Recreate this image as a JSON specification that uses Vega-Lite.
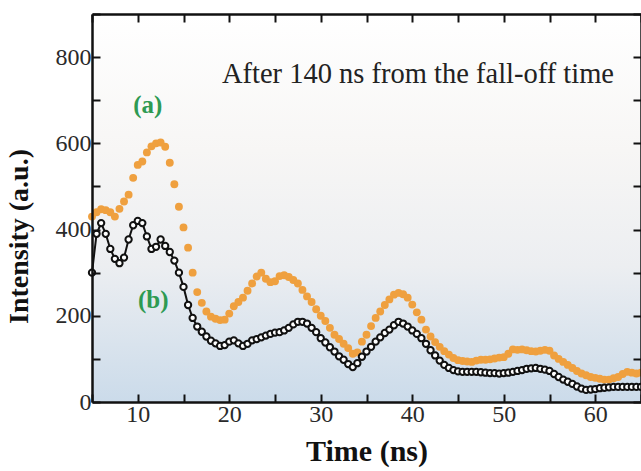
{
  "$schema": "https://vega.github.io/schema/vega-lite/v6.json",
  "autosize": {"type": "none"},
  "width": 549,
  "height": 388,
  "padding": {"left": 92, "top": 14, "right": 0, "bottom": 69},
  "background": "white",
  "config": {
    "view": {"stroke": null},
    "font": "Liberation Serif",
    "axis": {"grid": false, "domainColor": "#111", "domainWidth": 2.5, "tickColor": "#111", "tickWidth": 2, "tickSize": -8, "labelFont": "Liberation Serif", "labelFontSize": 24, "labelColor": "#2a2a2a", "titleFont": "Liberation Serif", "titleFontWeight": "bold", "titleColor": "#111"}
  },
  "datasets": {
    "a": [
      {"t":5.0,"v":430},{"t":5.5,"v":440},{"t":6.0,"v":447},{"t":6.5,"v":445},{"t":7.0,"v":440},{"t":7.5,"v":430},{"t":8.0,"v":448},{"t":8.5,"v":465},{"t":9.0,"v":481},{"t":9.5,"v":520},
      {"t":10.0,"v":550},{"t":10.5,"v":558},{"t":11.0,"v":579},{"t":11.5,"v":593},{"t":12.0,"v":600},{"t":12.5,"v":602},{"t":13.0,"v":592},{"t":13.5,"v":555},{"t":14.0,"v":505},{"t":14.5,"v":453},
      {"t":15.0,"v":405},{"t":15.5,"v":358},{"t":16.0,"v":300},{"t":16.5,"v":255},{"t":17.0,"v":230},{"t":17.5,"v":210},{"t":18.0,"v":198},{"t":18.5,"v":193},{"t":19.0,"v":190},{"t":19.5,"v":191},
      {"t":20.0,"v":205},{"t":20.5,"v":222},{"t":21.0,"v":232},{"t":21.5,"v":242},{"t":22.0,"v":258},{"t":22.5,"v":275},{"t":23.0,"v":291},{"t":23.5,"v":300},{"t":24.0,"v":286},{"t":24.5,"v":278},
      {"t":25.0,"v":280},{"t":25.5,"v":292},{"t":26.0,"v":294},{"t":26.5,"v":290},{"t":27.0,"v":283},{"t":27.5,"v":275},{"t":28.0,"v":260},{"t":28.5,"v":245},{"t":29.0,"v":232},{"t":29.5,"v":215},
      {"t":30.0,"v":200},{"t":30.5,"v":188},{"t":31.0,"v":172},{"t":31.5,"v":156},{"t":32.0,"v":146},{"t":32.5,"v":135},{"t":33.0,"v":125},{"t":33.5,"v":112},{"t":34.0,"v":115},{"t":34.5,"v":140},
      {"t":35.0,"v":156},{"t":35.5,"v":176},{"t":36.0,"v":195},{"t":36.5,"v":210},{"t":37.0,"v":225},{"t":37.5,"v":238},{"t":38.0,"v":249},{"t":38.5,"v":253},{"t":39.0,"v":250},{"t":39.5,"v":242},
      {"t":40.0,"v":226},{"t":40.5,"v":208},{"t":41.0,"v":191},{"t":41.5,"v":168},{"t":42.0,"v":152},{"t":42.5,"v":139},{"t":43.0,"v":128},{"t":43.5,"v":118},{"t":44.0,"v":110},{"t":44.5,"v":102},
      {"t":45.0,"v":97},{"t":45.5,"v":95},{"t":46.0,"v":94},{"t":46.5,"v":93},{"t":47.0,"v":96},{"t":47.5,"v":98},{"t":48.0,"v":98},{"t":48.5,"v":99},{"t":49.0,"v":101},{"t":49.5,"v":103},
      {"t":50.0,"v":104},{"t":50.5,"v":112},{"t":51.0,"v":122},{"t":51.5,"v":121},{"t":52.0,"v":122},{"t":52.5,"v":120},{"t":53.0,"v":118},{"t":53.5,"v":117},{"t":54.0,"v":119},{"t":54.5,"v":121},
      {"t":55.0,"v":119},{"t":55.5,"v":108},{"t":56.0,"v":100},{"t":56.5,"v":93},{"t":57.0,"v":86},{"t":57.5,"v":79},{"t":58.0,"v":72},{"t":58.5,"v":66},{"t":59.0,"v":62},{"t":59.5,"v":58},
      {"t":60.0,"v":56},{"t":60.5,"v":54},{"t":61.0,"v":52},{"t":61.5,"v":52},{"t":62.0,"v":55},{"t":62.5,"v":58},{"t":63.0,"v":65},{"t":63.5,"v":70},{"t":64.0,"v":68},{"t":64.5,"v":66},{"t":65.0,"v":68}
    ],
    "b": [
      {"t":5.0,"v":300},{"t":5.5,"v":390},{"t":6.0,"v":415},{"t":6.5,"v":390},{"t":7.0,"v":355},{"t":7.5,"v":332},{"t":8.0,"v":322},{"t":8.5,"v":335},{"t":9.0,"v":377},{"t":9.5,"v":410},
      {"t":10.0,"v":420},{"t":10.5,"v":415},{"t":11.0,"v":384},{"t":11.5,"v":355},{"t":12.0,"v":360},{"t":12.5,"v":377},{"t":13.0,"v":362},{"t":13.5,"v":348},{"t":14.0,"v":328},{"t":14.5,"v":300},
      {"t":15.0,"v":267},{"t":15.5,"v":225},{"t":16.0,"v":195},{"t":16.5,"v":175},{"t":17.0,"v":163},{"t":17.5,"v":152},{"t":18.0,"v":142},{"t":18.5,"v":136},{"t":19.0,"v":130},{"t":19.5,"v":132},
      {"t":20.0,"v":140},{"t":20.5,"v":143},{"t":21.0,"v":136},{"t":21.5,"v":130},{"t":22.0,"v":135},{"t":22.5,"v":143},{"t":23.0,"v":146},{"t":23.5,"v":150},{"t":24.0,"v":154},{"t":24.5,"v":158},
      {"t":25.0,"v":161},{"t":25.5,"v":162},{"t":26.0,"v":166},{"t":26.5,"v":172},{"t":27.0,"v":180},{"t":27.5,"v":186},{"t":28.0,"v":186},{"t":28.5,"v":182},{"t":29.0,"v":172},{"t":29.5,"v":162},
      {"t":30.0,"v":148},{"t":30.5,"v":138},{"t":31.0,"v":127},{"t":31.5,"v":117},{"t":32.0,"v":106},{"t":32.5,"v":98},{"t":33.0,"v":88},{"t":33.5,"v":81},{"t":34.0,"v":90},{"t":34.5,"v":105},
      {"t":35.0,"v":117},{"t":35.5,"v":128},{"t":36.0,"v":140},{"t":36.5,"v":150},{"t":37.0,"v":160},{"t":37.5,"v":168},{"t":38.0,"v":178},{"t":38.5,"v":186},{"t":39.0,"v":182},{"t":39.5,"v":175},
      {"t":40.0,"v":166},{"t":40.5,"v":158},{"t":41.0,"v":148},{"t":41.5,"v":135},{"t":42.0,"v":120},{"t":42.5,"v":108},{"t":43.0,"v":96},{"t":43.5,"v":86},{"t":44.0,"v":79},{"t":44.5,"v":74},
      {"t":45.0,"v":71},{"t":45.5,"v":70},{"t":46.0,"v":70},{"t":46.5,"v":70},{"t":47.0,"v":70},{"t":47.5,"v":69},{"t":48.0,"v":68},{"t":48.5,"v":67},{"t":49.0,"v":67},{"t":49.5,"v":66},
      {"t":50.0,"v":67},{"t":50.5,"v":68},{"t":51.0,"v":70},{"t":51.5,"v":72},{"t":52.0,"v":74},{"t":52.5,"v":77},{"t":53.0,"v":78},{"t":53.5,"v":79},{"t":54.0,"v":77},{"t":54.5,"v":75},
      {"t":55.0,"v":72},{"t":55.5,"v":65},{"t":56.0,"v":58},{"t":56.5,"v":52},{"t":57.0,"v":47},{"t":57.5,"v":42},{"t":58.0,"v":36},{"t":58.5,"v":31},{"t":59.0,"v":28},{"t":59.5,"v":29},
      {"t":60.0,"v":30},{"t":60.5,"v":32},{"t":61.0,"v":33},{"t":61.5,"v":34},{"t":62.0,"v":35},{"t":62.5,"v":35},{"t":63.0,"v":35},{"t":63.5,"v":35},{"t":64.0,"v":35},{"t":64.5,"v":35},{"t":65.0,"v":35}
    ],
    "labels": [
      {"t":19.2,"v":760,"txt":"After 140 ns from the fall-off time","kind":"note"},
      {"t":11.1,"v":690,"txt":"(a)","kind":"tag"},
      {"t":11.7,"v":237,"txt":"(b)","kind":"tag"}
    ]
  },
  "resolve": {"axis": {"x": "independent", "y": "independent"}},
  "layer": [
    {
      "data": {"values": [{"x0":5,"x1":65,"y0":0,"y1":900}]},
      "mark": {"type": "rect", "color": {"gradient": "linear", "x1": 0, "y1": 0, "x2": 0, "y2": 1, "stops": [{"offset": 0, "color": "#ffffff"}, {"offset": 0.35, "color": "#f7f6f5"}, {"offset": 0.65, "color": "#eceef1"}, {"offset": 1, "color": "#cbdbea"}]}},
      "encoding": {
        "x": {"field": "x0", "type": "quantitative", "scale": {"domain": [5, 65], "nice": false, "zero": false}, "title": "Time (ns)",
              "axis": {"orient": "bottom", "zindex": 1, "values": [5,10,15,20,25,30,35,40,45,50,55,60,65], "labelExpr": "datum.value % 10 === 0 ? datum.label : ''", "labelPadding": 8, "titlePadding": 10, "titleFontSize": 30}},
        "x2": {"field": "x1"},
        "y": {"field": "y0", "type": "quantitative", "scale": {"domain": [0, 900], "nice": false}, "title": "Intensity (a.u.)",
              "axis": {"orient": "left", "zindex": 1, "values": [0,100,200,300,400,500,600,700,800,900], "labelExpr": "datum.value % 200 === 0 && datum.value < 900 ? datum.label : ''", "labelPadding": 9, "titlePadding": 22, "titleFontSize": 28, "titleY": 222}},
        "y2": {"field": "y1"}
      }
    },
    {
      "data": {"name": "a"},
      "mark": {"type": "circle", "color": "#efa03f", "size": 62, "opacity": 1},
      "encoding": {
        "x": {"field": "t", "type": "quantitative", "axis": {"orient": "top", "zindex": 1, "values": [5,10,15,20,25,30,35,40,45,50,55,60,65], "labels": false, "title": null}},
        "y": {"field": "v", "type": "quantitative", "axis": {"orient": "right", "zindex": 1, "values": [0,100,200,300,400,500,600,700,800,900], "labels": false, "title": null}}
      }
    },
    {
      "data": {"name": "b"},
      "mark": {"type": "line", "color": "#111", "strokeWidth": 2},
      "encoding": {
        "x": {"field": "t", "type": "quantitative", "axis": null},
        "y": {"field": "v", "type": "quantitative", "axis": null}
      }
    },
    {
      "data": {"name": "b"},
      "mark": {"type": "point", "shape": "circle", "filled": false, "fill": "#ffffff", "fillOpacity": 1, "stroke": "#111", "strokeWidth": 2, "size": 40, "opacity": 1},
      "encoding": {
        "x": {"field": "t", "type": "quantitative", "axis": null},
        "y": {"field": "v", "type": "quantitative", "axis": null}
      }
    },
    {
      "data": {"name": "labels"},
      "transform": [{"filter": "datum.kind === 'note'"}],
      "mark": {"type": "text", "align": "left", "baseline": "middle", "font": "Liberation Serif", "fontSize": 28.5, "color": "#222"},
      "encoding": {
        "x": {"field": "t", "type": "quantitative", "axis": null},
        "y": {"field": "v", "type": "quantitative", "axis": null},
        "text": {"field": "txt"}
      }
    },
    {
      "data": {"name": "labels"},
      "transform": [{"filter": "datum.kind === 'tag'"}],
      "mark": {"type": "text", "align": "center", "baseline": "middle", "font": "Liberation Serif", "fontSize": 25, "fontWeight": "bold", "color": "#2e9a52"},
      "encoding": {
        "x": {"field": "t", "type": "quantitative", "axis": null},
        "y": {"field": "v", "type": "quantitative", "axis": null},
        "text": {"field": "txt"}
      }
    }
  ]
}
